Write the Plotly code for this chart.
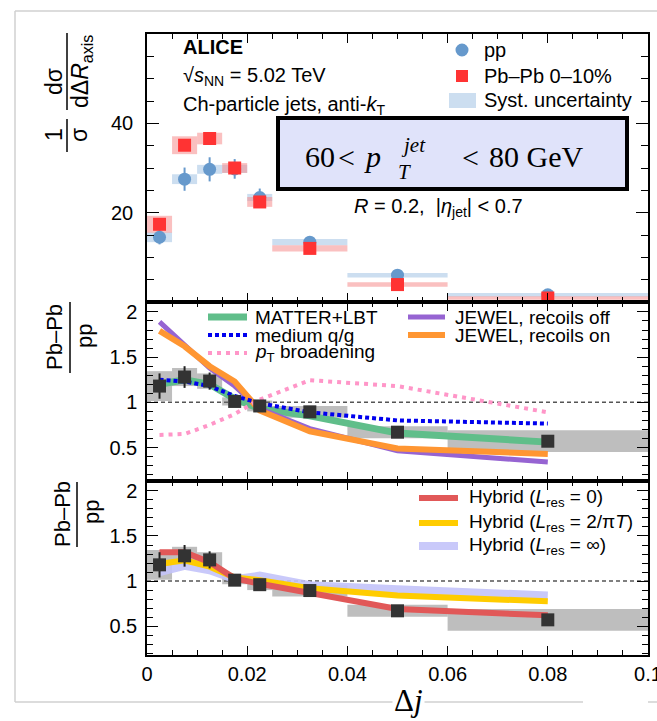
import plotly.graph_objects as go

# ---------------- data ----------------
bin_centers = [0.0025, 0.0075, 0.0125, 0.0175, 0.0225, 0.0325, 0.05, 0.08]
bin_widths = [0.005, 0.005, 0.005, 0.005, 0.005, 0.015, 0.02, 0.04]

pp_vals = [14.5, 27.5, 29.7, 29.8, 23.4, 13.4, 6.0, 1.6]
pp_stat = [1.6, 2.6, 2.7, 2.2, 2.0, 0.6, 0.5, 0.2]
pp_syst = [1.1, 1.1, 1.0, 0.9, 0.8, 0.7, 0.5, 0.4]

pbpb_vals = [17.4, 35.1, 36.6, 30.0, 22.4, 12.0, 3.9, 0.9]
pbpb_stat = [1.0, 1.0, 1.0, 0.8, 0.8, 0.4, 0.3, 0.15]
pbpb_syst = [1.9, 2.0, 1.3, 1.1, 1.1, 0.7, 0.5, 0.4]

ratio_vals = [1.18, 1.28, 1.235, 1.01, 0.96, 0.895, 0.67, 0.57]
ratio_stat = [0.14, 0.12, 0.095, 0.025, 0.03, 0.02, 0.02, 0.02]
ratio_syst = [0.165, 0.10, 0.085, 0.045, 0.06, 0.065, 0.066, 0.12]

matter_lbt = [1.20, 1.25, 1.20, 1.04, 0.93, 0.85, 0.66, 0.56]
medium_qg = [1.25, 1.23, 1.18, 1.07, 0.99, 0.89, 0.80, 0.765]
pt_broadening = [0.64, 0.65, 0.75, 0.87, 1.03, 1.245, 1.18, 0.89]
jewel_off = [1.89, 1.63, 1.38, 1.18, 0.93, 0.71, 0.465, 0.34]
jewel_on = [1.79, 1.62, 1.40, 1.23, 0.91, 0.68, 0.49, 0.43]

hybrid_0 = [1.32, 1.32, 1.21, 1.03, 0.97, 0.87, 0.69, 0.62]
hybrid_2pit = [1.19, 1.23, 1.16, 1.04, 1.01, 0.92, 0.84, 0.775]
hybrid_inf = [1.10, 1.17, 1.12, 1.02, 1.06, 0.955, 0.91, 0.84]

x_tickvals = [0, 0.02, 0.04, 0.06, 0.08, 0.1]
x_ticktext = ["0", "0.02", "0.04", "0.06", "0.08", "0.1"]
ratio_tickvals = [0.5, 1, 1.5, 2]
ratio_ticktext = ["0.5", "1", "1.5", "2"]

# ---------------- geometry helpers (pixel -> paper) ----------------
W, H = 657, 721
L, R, T, B = 147, 9, 34, 66
PW, PH = W - L - R, H - T - B


def PX(x):
    return (x - L) / PW


def PY(y):
    return (H - B - y) / PH


FONT = "Liberation Sans, Arial, sans-serif"
SERIF = "Liberation Serif, Times New Roman, serif"

fig = go.Figure()


def box_bars(vals, syst, color, xa, ya):
    return go.Bar(
        x=bin_centers, y=[2 * s for s in syst], base=[v - s for v, s in zip(vals, syst)],
        width=bin_widths, marker=dict(color=color, line=dict(width=0)),
        xaxis=xa, yaxis=ya, showlegend=False, hoverinfo="skip")


# ---- top panel ----
fig.add_trace(box_bars(pp_vals, pp_syst, "rgba(170,200,230,0.6)", "x", "y"))
fig.add_trace(box_bars(pbpb_vals, pbpb_syst, "rgba(245,140,140,0.55)", "x", "y"))
fig.add_trace(go.Scatter(
    x=bin_centers, y=pp_vals, mode="markers", xaxis="x", yaxis="y",
    marker=dict(symbol="circle", size=13, color="#6699CC"),
    error_y=dict(type="data", array=pp_stat, color="#6699CC", thickness=2, width=0),
    showlegend=False))
fig.add_trace(go.Scatter(
    x=bin_centers, y=pbpb_vals, mode="markers", xaxis="x", yaxis="y",
    marker=dict(symbol="square", size=13, color="#FF3333"),
    error_y=dict(type="data", array=pbpb_stat, color="#FF3333", thickness=2, width=0),
    showlegend=False))

# ---- middle panel ----
mid_models = [
    (matter_lbt, "rgb(96,190,138)", 7, "solid"),
    (jewel_off, "rgb(150,100,210)", 5, "solid"),
    (jewel_on, "rgb(255,150,50)", 6, "solid"),
    (medium_qg, "#0000EE", 4, "4px,3px"),
    (pt_broadening, "rgb(255,150,200)", 4, "4px,5px"),
]
for vals, col, w, dash in mid_models:
    fig.add_trace(go.Scatter(x=bin_centers, y=vals, mode="lines", xaxis="x2", yaxis="y2",
                             line=dict(color=col, width=w, dash=dash), showlegend=False))
fig.add_trace(box_bars(ratio_vals, ratio_syst, "rgba(110,110,110,0.45)", "x2", "y2"))
fig.add_trace(go.Scatter(
    x=bin_centers, y=ratio_vals, mode="markers", xaxis="x2", yaxis="y2",
    marker=dict(symbol="square", size=13, color="#333333"),
    error_y=dict(type="data", array=ratio_stat, color="#222222", thickness=2, width=0),
    showlegend=False))

# ---- bottom panel ----
bot_models = [
    (hybrid_inf, "rgba(195,195,250,0.9)", 8),
    (hybrid_2pit, "#FFCC00", 6),
    (hybrid_0, "rgb(225,88,88)", 6),
]
for vals, col, w in bot_models:
    fig.add_trace(go.Scatter(x=bin_centers, y=vals, mode="lines", xaxis="x3", yaxis="y3",
                             line=dict(color=col, width=w), showlegend=False))
fig.add_trace(box_bars(ratio_vals, ratio_syst, "rgba(110,110,110,0.45)", "x3", "y3"))
fig.add_trace(go.Scatter(
    x=bin_centers, y=ratio_vals, mode="markers", xaxis="x3", yaxis="y3",
    marker=dict(symbol="square", size=13, color="#333333"),
    error_y=dict(type="data", array=ratio_stat, color="#222222", thickness=2, width=0),
    showlegend=False))

# ---------------- axes ----------------
def xaxis(anchor, labels):
    return dict(domain=[0, 1], range=[0, 0.1], anchor=anchor, showline=True, linecolor="black",
                linewidth=1.5, mirror="allticks", ticks="inside", ticklen=9, tickwidth=1.3,
                tickcolor="black", tickvals=x_tickvals, ticktext=x_ticktext,
                showticklabels=labels, showgrid=False, zeroline=False,
                ticklabeloverflow="allow",
                tickfont=dict(family=FONT, size=20, color="black"),
                minor=dict(ticks="inside", ticklen=5, tickwidth=1.1, tickcolor="black",
                           dtick=0.005, tick0=0, showgrid=False))


def yaxis(anchor, domain, rng, tv, tt, mdt, tl, mtl, standoff):
    return dict(domain=domain, range=rng, anchor=anchor, showline=True, linecolor="black",
                linewidth=1.5, mirror="allticks", ticks="inside", ticklen=tl, tickwidth=1.3,
                tickcolor="black", tickvals=tv, ticktext=tt, showgrid=False, zeroline=False,
                ticklabelstandoff=standoff,
                tickfont=dict(family=FONT, size=20, color="black"),
                minor=dict(ticks="inside", ticklen=mtl, tickwidth=1.1, tickcolor="black",
                           dtick=mdt, tick0=0, showgrid=False))


y_top = [PY(302), 1]
y_mid = [PY(481), PY(302)]
y_bot = [0, PY(481)]

shapes = []
# dashed unity lines
for xr, yr in (("x2", "y2"), ("x3", "y3")):
    shapes.append(dict(type="line", xref=xr, yref=yr, x0=0, x1=0.1, y0=1, y1=1, layer="below",
                       line=dict(color="#555555", width=1.5, dash="4px,3px")))

# outer light frame
FR = "#D0D0D0"
shapes += [
    dict(type="line", xref="paper", yref="paper", x0=PX(15), x1=PX(660), y0=PY(11), y1=PY(11), line=dict(color=FR, width=1.5)),
    dict(type="line", xref="paper", yref="paper", x0=PX(15), x1=PX(15), y0=PY(11), y1=PY(702), line=dict(color=FR, width=1.5)),
    dict(type="line", xref="paper", yref="paper", x0=PX(15), x1=PX(583), y0=PY(702), y1=PY(702), line=dict(color=FR, width=1.5)),
    dict(type="line", xref="paper", yref="paper", x0=PX(648), x1=PX(660), y0=PY(702), y1=PY(702), line=dict(color=FR, width=1.5)),
]

# pT box
shapes.append(dict(type="rect", xref="paper", yref="paper", x0=PX(278), x1=PX(627), y0=PY(189), y1=PY(118),
                   fillcolor="#E0E3FA", line=dict(color="black", width=4), layer="above"))

# y-title fraction bars
for x, y0, y1 in ((67, 33, 110), (67, 119, 152), (70, 302, 373), (77, 482, 547)):
    shapes.append(dict(type="line", xref="paper", yref="paper", x0=PX(x), x1=PX(x), y0=PY(y0), y1=PY(y1),
                       line=dict(color="black", width=1.5)))

# top legend symbols
shapes.append(dict(type="circle", xref="paper", yref="paper", x0=PX(455.5), x1=PX(468.5), y0=PY(56.5), y1=PY(43.5),
                   fillcolor="#6699CC", line=dict(width=0)))
shapes.append(dict(type="rect", xref="paper", yref="paper", x0=PX(456), x1=PX(468), y0=PY(82), y1=PY(70),
                   fillcolor="#FF3333", line=dict(width=0)))
shapes.append(dict(type="rect", xref="paper", yref="paper", x0=PX(449), x1=PX(476), y0=PY(108), y1=PY(93),
                   fillcolor="rgba(170,200,230,0.6)", line=dict(width=0)))

# legend samples
for x0, x1, y, col, w, dash in (
        (208, 247, 317, "rgb(96,190,138)", 7, "solid"),
        (208, 247, 335, "#0000EE", 4, "4px,3px"),
        (208, 247, 353, "rgb(255,150,200)", 4, "4px,5px"),
        (408, 445, 317, "rgb(150,100,210)", 5, "solid"),
        (408, 445, 335, "rgb(255,150,50)", 6, "solid"),
        (419, 458, 498, "rgb(225,88,88)", 6, "solid"),
        (419, 458, 523, "#FFCC00", 6, "solid"),
        (419, 458, 546, "rgba(195,195,250,0.9)", 8, "solid")):
    shapes.append(dict(type="line", xref="paper", yref="paper", x0=PX(x0), x1=PX(x1), y0=PY(y), y1=PY(y),
                       line=dict(color=col, width=w, dash=dash)))

annotations = []


def ann(text, x, y, size=20, xanchor="left", family=FONT, angle=0, yanchor="middle", bg=None):
    d = dict(text=text, x=PX(x), y=PY(y), xref="paper", yref="paper", showarrow=False,
             xanchor=xanchor, yanchor=yanchor, textangle=angle,
             font=dict(family=family, size=size, color="black"))
    if bg:
        d["bgcolor"] = bg
    annotations.append(d)


ann("<b>ALICE</b>", 181, 47, 20)
ann("√<i>s</i><sub>NN</sub> = 5.02 TeV", 181, 77, 20)
ann("Ch-particle jets, anti-<i>k</i><sub>T</sub>", 181, 106, 20)
ann("<i>R</i> = 0.2,  |<i>η</i><sub>jet</sub>| < 0.7", 352, 207, 20)
ann("pp", 482, 50, 20)
ann("Pb–Pb 0–10%", 482, 76, 20)
ann("Syst. uncertainty", 482, 100, 20)

# pT box text
ann("60", 303, 156, 30, family=SERIF)
ann("<", 346, 157, 30, xanchor="center", family=SERIF)
ann("<i>p</i>", 362, 156, 30, family=SERIF)
ann("<i>T</i>", 396, 172, 21, family=SERIF)
ann("<i>jet</i>", 399, 145, 21, family=SERIF)
ann("<", 470, 157, 30, xanchor="center", family=SERIF)
ann("80 GeV", 487, 156, 30, family=SERIF)

# middle legend text
ann("MATTER+LBT", 253, 317, 19)
ann("medium q/g", 253, 335, 19)
ann("<i>p</i><sub>T</sub> broadening", 253, 353, 19)
ann("JEWEL, recoils off", 453, 317, 19)
ann("JEWEL, recoils on", 453, 335, 19)

# bottom legend text
ann("Hybrid (<i>L</i><sub>res</sub> = 0)", 467, 498, 19)
ann("Hybrid (<i>L</i><sub>res</sub> = 2/π<i>T</i>)", 467, 523, 19)
ann("Hybrid (<i>L</i><sub>res</sub> = ∞)", 467, 546, 19)

# y titles
ann("1", 54, 135, 23, xanchor="center", angle=-90)
ann("σ", 79, 135, 23, xanchor="center", angle=-90)
ann("dσ", 54, 82, 23, xanchor="center", angle=-90)
ann("dΔ<i>R</i><sub>axis</sub>", 81, 72, 23, xanchor="center", angle=-90)
ann("Pb–Pb", 55, 337, 22, xanchor="center", angle=-90)
ann("pp", 84, 336, 22, xanchor="center", angle=-90)
ann("Pb–Pb", 62, 514, 22, xanchor="center", angle=-90)
ann("pp", 91, 512, 22, xanchor="center", angle=-90)

# x title
ann("Δ<i>j</i>", 408, 701, 31, xanchor="center", family=SERIF, bg="white")

fig.update_layout(
    width=W, height=H, margin=dict(l=L, r=R, t=T, b=B, autoexpand=False),
    paper_bgcolor="white", plot_bgcolor="white", barmode="overlay", showlegend=False,
    xaxis=xaxis("y", False), xaxis2=xaxis("y2", False), xaxis3=xaxis("y3", True),
    yaxis=yaxis("x", y_top, [0, 60], [20, 40], ["20", "40"], 5, 12, 7, 8),
    yaxis2=yaxis("x2", y_mid, [0.13, 2.11], ratio_tickvals, ratio_ticktext, 0.1, 11, 6, 4),
    yaxis3=yaxis("x3", y_bot, [0.18, 2.11], ratio_tickvals, ratio_ticktext, 0.1, 11, 6, 4),
    shapes=shapes, annotations=annotations,
)

fig.write_html("out.html", config={"displayModeBar": False},
               post_script="document.body.style.margin='0';document.body.style.overflow='hidden';")
